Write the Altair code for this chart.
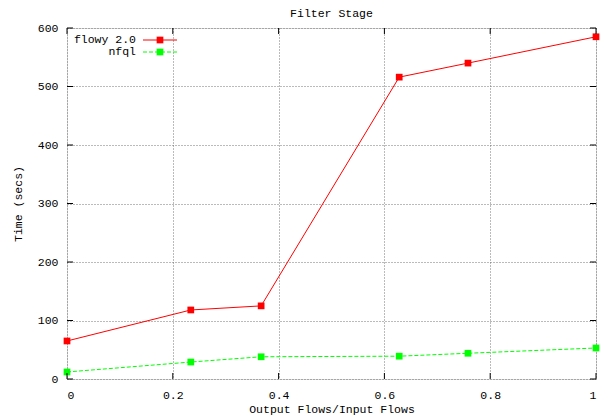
import altair as alt
import pandas as pd

x_vals = [0.0, 0.234, 0.367, 0.628, 0.758, 1.0]
flowy = [65, 118, 125, 516, 540, 585]
nfql = [12, 29, 38, 39, 44, 53]
series_names = ["flowy 2.0", "nfql"]
colors = ["#ff0000", "#00ff00"]
x_ticks = [0, 0.2, 0.4, 0.6, 0.8, 1.0]
y_ticks = [0, 100, 200, 300, 400, 500, 600]

FONT = "Liberation Mono, Courier New, monospace"
FS = 11.5
W, H = 529, 351

df = pd.DataFrame({
    "x": x_vals * 2,
    "y": flowy + nfql,
    "series": [series_names[0]] * len(x_vals) + [series_names[1]] * len(x_vals),
})

xs = alt.Scale(domain=[0, 1], nice=False, zero=False)
ys = alt.Scale(domain=[0, 600], nice=False)
color = alt.Color("series:N", scale=alt.Scale(domain=series_names, range=colors), legend=None)

base = alt.Chart(df).encode(
    x=alt.X("x:Q", scale=xs, title="Output Flows/Input Flows",
            axis=alt.Axis(values=x_ticks, format="~g", grid=True, gridDash=[1, 2],
                          gridColor="#555", gridOpacity=0.8, ticks=False, domain=False,
                          labelPadding=10, titlePadding=3, labelFont=FONT, titleFont=FONT,
                          labelFontSize=FS, titleFontSize=FS, titleFontWeight="normal",
                          labelColor="black", titleColor="black")),
    y=alt.Y("y:Q", scale=ys, title="Time (secs)",
            axis=alt.Axis(values=y_ticks, grid=True, gridDash=[1, 2], gridColor="#555",
                          gridOpacity=0.8, ticks=False, domain=False, labelPadding=9,
                          titlePadding=14, labelFont=FONT, titleFont=FONT,
                          labelFontSize=FS, titleFontSize=FS, titleFontWeight="normal",
                          labelColor="black", titleColor="black")),
    color=color,
)

red_line = base.transform_filter(alt.datum.series == series_names[0]).mark_line(strokeWidth=1)
green_line = base.transform_filter(alt.datum.series == series_names[1]).mark_line(
    strokeWidth=1, strokeDash=[4, 2])
pts = base.mark_square(size=45, opacity=1, filled=True)

tick_df = pd.DataFrame({"x": x_ticks})
xticks_bottom = alt.Chart(tick_df).mark_rule(color="black").encode(
    x=alt.X("x:Q", scale=xs), y=alt.value(H), y2=alt.value(H - 6))
xticks_top = alt.Chart(tick_df).mark_rule(color="black").encode(
    x=alt.X("x:Q", scale=xs), y=alt.value(0), y2=alt.value(6))
ytick_df = pd.DataFrame({"y": y_ticks})
yticks_left = alt.Chart(ytick_df).mark_rule(color="black").encode(
    y=alt.Y("y:Q", scale=ys), x=alt.value(0), x2=alt.value(6))
yticks_right = alt.Chart(ytick_df).mark_rule(color="black").encode(
    y=alt.Y("y:Q", scale=ys), x=alt.value(W), x2=alt.value(W - 6))

leg_df = pd.DataFrame({"series": series_names})
row_y = [12, 24]
leg_layers = []
for i, name in enumerate(series_names):
    d = leg_df[leg_df.series == name]
    leg_layers.append(alt.Chart(d).mark_text(align="right", baseline="middle", font=FONT,
                                             fontSize=FS, color="black").encode(
        text="series:N", x=alt.value(69), y=alt.value(row_y[i])))
    rule_kw = dict(strokeWidth=1, color=colors[i])
    if i == 1:
        rule_kw["strokeDash"] = [4, 2]
    leg_layers.append(alt.Chart(d).mark_rule(**rule_kw).encode(
        x=alt.value(76), x2=alt.value(110), y=alt.value(row_y[i])))
    leg_layers.append(alt.Chart(d).mark_square(size=45, opacity=1, filled=True,
                                               color=colors[i]).encode(
        x=alt.value(93), y=alt.value(row_y[i])))

chart = alt.layer(
    red_line, green_line, pts,
    xticks_bottom, xticks_top, yticks_left, yticks_right,
    *leg_layers,
).properties(
    width=W, height=H,
    title=alt.TitleParams("Filter Stage", font=FONT, fontSize=FS, fontWeight="normal",
                          color="black", offset=3),
    autosize=alt.AutoSizeParams(type="none"),
    padding={"left": 59, "top": 20, "right": 4, "bottom": 40},
).configure_view(stroke="black", strokeWidth=1.5).configure(background="white")

chart.save("out.html", embed_options={"renderer": "svg", "actions": False})
